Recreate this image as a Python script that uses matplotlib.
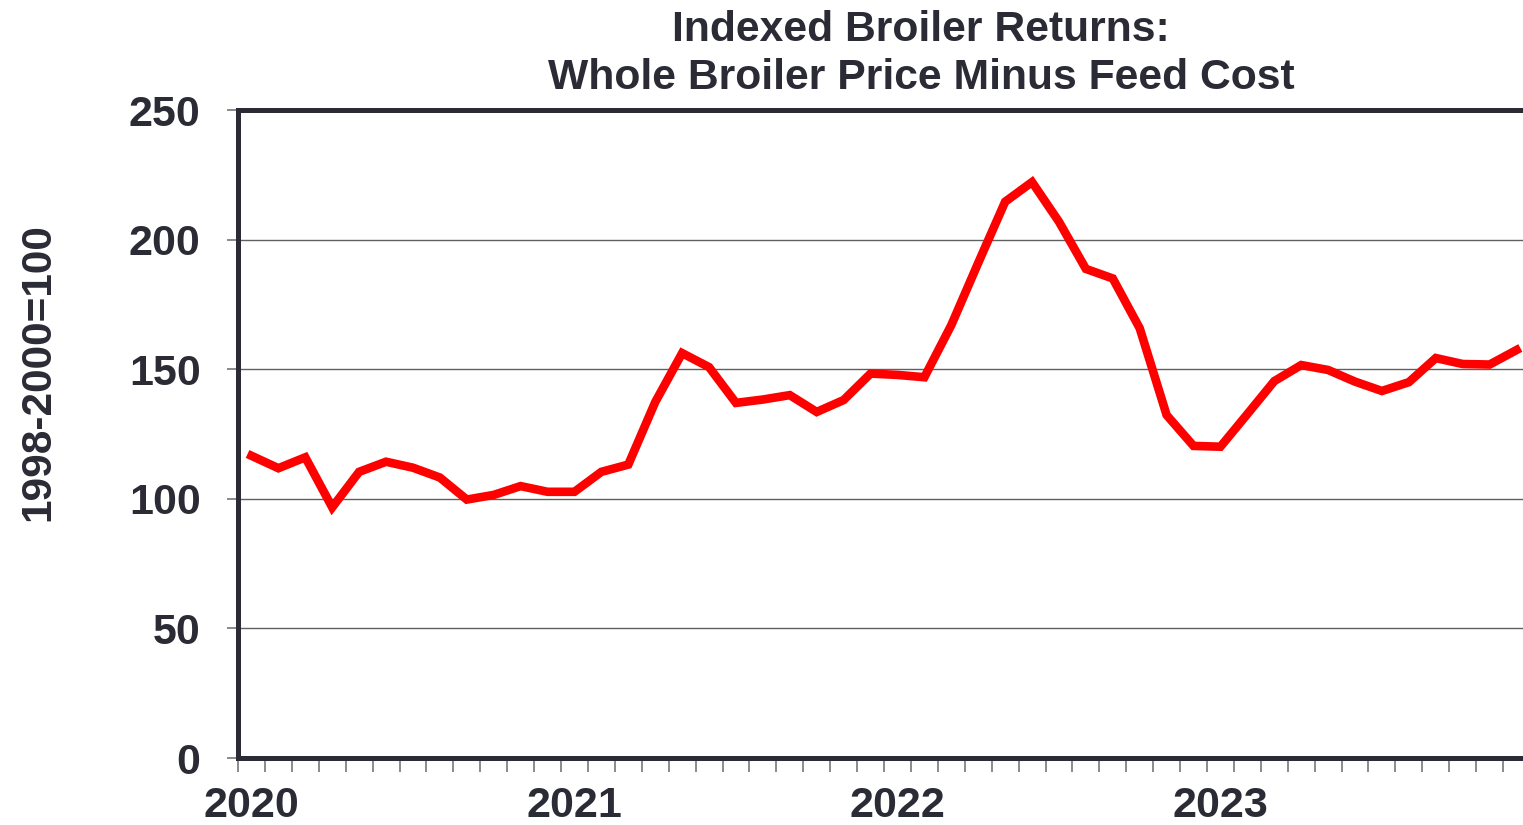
import numpy as np
import matplotlib.pyplot as plt

# monthly index values, Jan 2020 - Dec 2023 (1998-2000=100)
returns = [
    116.6, 111.8, 116.0, 96.7, 110.4, 114.3, 112.0, 108.2, 99.7, 101.5, 104.9, 102.7,
    102.7, 110.4, 113.2, 137.3, 156.2, 150.8, 137.0, 138.3, 140.0, 133.5, 138.1, 148.3,
    147.8, 146.9, 167.0, 191.0, 214.6, 222.2, 206.9, 188.7, 185.0, 165.8, 132.3, 120.4,
    120.1, 132.7, 145.4, 151.6, 149.7, 145.2, 141.6, 145.0, 154.3, 152.0, 151.8, 157.4,
]
years = ["2020", "2021", "2022", "2023"]
title_lines = ["Indexed Broiler Returns:", "Whole Broiler Price Minus Feed Cost"]
ylabel = "1998-2000=100"

dark = "#2b2b36"
plt.rcParams['font.family'] = ['Liberation Sans', 'DejaVu Sans']
plt.rcParams['font.weight'] = 'bold'

fig = plt.figure(figsize=(15.23, 8.25), dpi=100)
ax = fig.add_axes([238 / 1523, 67 / 825, 1292 / 1523, 648 / 825])

x = np.arange(len(returns))
ax.plot(x, returns, color="#ff0000", lw=6.2, solid_joinstyle="miter", zorder=3)

ax.set_xlim(-0.5, len(returns) - 0.5)
ax.set_ylim(0, 250)
ax.set_yticks([0, 50, 100, 150, 200, 250])
ax.yaxis.grid(True, color="#606060", lw=1)
ax.set_axisbelow(True)

ax.set_xticks(np.arange(0, len(returns), 12))
ax.set_xticklabels(years)
ax.set_xticks(np.arange(-0.5, len(returns), 1), minor=True)
ax.tick_params(axis="x", which="major", length=0, pad=20, labelsize=31, colors=dark)
ax.tick_params(axis="x", which="minor", length=10, width=1.2, color="#777777")
ax.tick_params(axis="y", length=8, width=1.2, color="#777777", pad=19,
               labelsize=31, labelcolor=dark)

for s in ["left", "bottom", "top"]:
    ax.spines[s].set_linewidth(3.6)
    ax.spines[s].set_color(dark)
ax.spines["right"].set_visible(False)

fig.text(18 / 1523, 1 - 372 / 825, ylabel, rotation=90, ha="left", va="center",
         fontsize=30.5, color=dark)
fig.text(921 / 1523, 1 - 30 / 825, title_lines[0], ha="center", va="center",
         fontsize=30.7, color=dark)
fig.text(921 / 1523, 1 - 78 / 825, title_lines[1], ha="center", va="center",
         fontsize=30.7, color=dark)

fig.savefig("out.png", dpi=100)
